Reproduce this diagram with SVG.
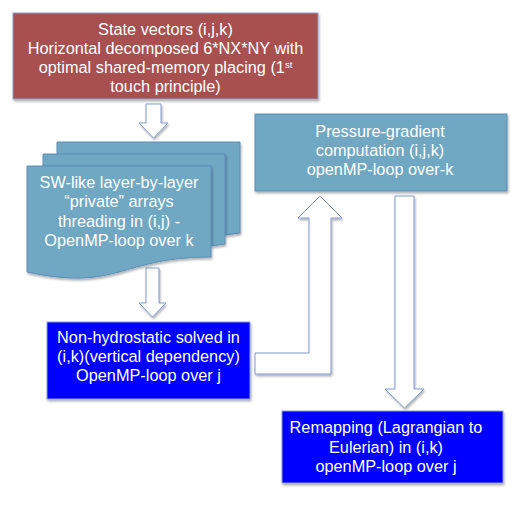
<svg xmlns="http://www.w3.org/2000/svg" width="512" height="511" viewBox="0 0 512 511">
<defs>
<filter id="sh" x="-10%" y="-10%" width="120%" height="130%">
<feDropShadow dx="1" dy="2" stdDeviation="1.2" flood-color="#000" flood-opacity="0.3"/>
</filter>
<style>
text{font-family:"Liberation Sans",Arial,sans-serif;font-size:16.3px;fill:#fff;text-anchor:middle}
.red{fill:#a84f4f;stroke:#8aa0cc;stroke-width:1}
.teal{fill:#6fa7c2;stroke:#5f8fba;stroke-width:1}
.blue{fill:#0000fe;stroke:#8aa0cc;stroke-width:1}
.arr{fill:#fff;stroke:#7f9bd0;stroke-width:1}
</style>
</defs>
<rect width="512" height="511" fill="#fff"/>
<g id="connectors" filter="url(#sh)">
<path class="arr" d="M146,104 H161 V123 H168 L153.5,138 L139,123 H146 Z"/>
<path class="arr" d="M146,268 H159 V303 H166 L152.5,317 L139,303 H146 Z"/>
<path class="arr" d="M255,353 H309 V218 H298 L320,196 L342,218 H331 V374 H255 Z"/>
<path class="arr" d="M395,196 H414 V389 H424 L404.5,408 L385,389 H395 Z"/>
</g>
<g id="state">
<rect class="red" x="13" y="13" width="305" height="86" filter="url(#sh)"/>
<text x="165.5" y="35">State vectors (i,j,k)</text>
<text x="165.5" y="54">Horizontal decomposed 6*NX*NY with</text>
<text x="165.5" y="73">optimal shared-memory placing (1<tspan font-size="9.5" dy="-5">st</tspan></text>
<text x="165.5" y="92">touch principle)</text>
</g>
<g id="swlayers">
<path class="teal" d="M57,154 V142 H240 V233 L225,235 V154 Z" filter="url(#sh)"/>
<path class="teal" d="M43,166 V154 H225 V244 L211,246 V166 Z" filter="url(#sh)"/>
<path class="teal" d="M27,166 H211 V257 C119,257 119,292 27,272 Z" filter="url(#sh)"/>
<text x="119" y="188">SW-like layer-by-layer</text>
<text x="119" y="207">“private” arrays</text>
<text x="119" y="227">threading in (i,j) -</text>
<text x="119" y="246">OpenMP-loop over k</text>
</g>
<g id="pressure">
<rect class="teal" x="255" y="114" width="252" height="77" filter="url(#sh)"/>
<text x="380" y="137">Pressure-gradient</text>
<text x="380" y="156">computation (i,j,k)</text>
<text x="380" y="175">openMP-loop over-k</text>
</g>
<g id="nonhydro">
<rect class="blue" x="47" y="322" width="203" height="77" filter="url(#sh)"/>
<text x="148.5" y="343">Non-hydrostatic solved in</text>
<text x="148.5" y="362">(i,k)(vertical dependency)</text>
<text x="148.5" y="381">OpenMP-loop over j</text>
</g>
<g id="remap">
<rect class="blue" x="282" y="411" width="221" height="72" filter="url(#sh)"/>
<text x="386" y="433">Remapping (Lagrangian to</text>
<text x="386" y="453">Eulerian) in (i,k)</text>
<text x="386" y="472">openMP-loop over j</text>
</g>
</svg>
